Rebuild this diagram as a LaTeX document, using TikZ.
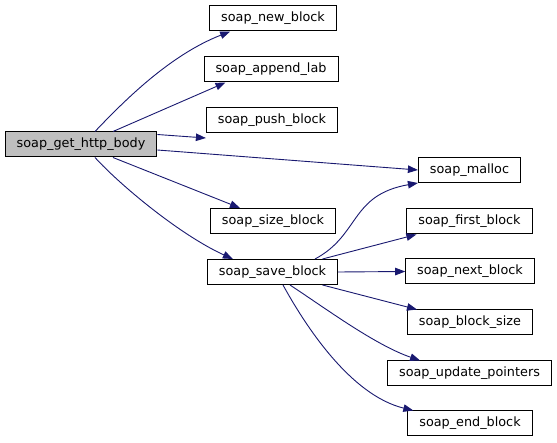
\documentclass[tikz,border=0pt]{standalone}
\usepackage{fontspec}
\setmainfont{DejaVu Sans}
\usetikzlibrary{arrows.meta}
\definecolor{edgeblue}{RGB}{25,25,112}
\definecolor{rootgray}{RGB}{191,191,191}

\begin{document}
\begin{tikzpicture}[
    x=1pt, y=-1pt,
    fn/.style={draw, line width=1pt, inner xsep=11.5pt, minimum height=25pt, fill=white, font=\fontsize{12.8}{15}\selectfont},
    call/.style={-{Triangle[length=10pt,width=7.5pt]}, line width=0.9pt, draw=edgeblue}
]
\useasboundingbox (0,0) rectangle (557,443);

\node[fn, fill=rootgray] (root) at (81,144.5) {soap\_get\_http\_body};
\node[fn] (newblock) at (273,18.5) {soap\_new\_block};
\node[fn] (appendlab) at (271,69.5) {soap\_append\_lab};
\node[fn] (pushblock) at (272,120) {soap\_push\_block};
\node[fn] (malloc) at (469.5,170) {soap\_malloc};
\node[fn] (sizeblock) at (273,221) {soap\_size\_block};
\node[fn] (saveblock) at (272.5,272) {soap\_save\_block};
\node[fn] (firstblock) at (469.5,221.5) {soap\_first\_block};
\node[fn] (nextblock) at (470,271.5) {soap\_next\_block};
\node[fn] (blocksize) at (470,322.5) {soap\_block\_size};
\node[fn] (updateptrs) at (469.5,373.5) {soap\_update\_pointers};
\node[fn] (endblock) at (470,423.5) {soap\_end\_block};

% calls from soap_get_http_body
\draw[call] ([xshift=14]root.north) .. controls (125,100) and (170,55) .. ([xshift=21]newblock.south west);
\draw[call] ([xshift=32]root.north) -- ([xshift=22]appendlab.south west);
\draw[call] ([yshift=-3]root.north east) -- ([yshift=-5]pushblock.south west);
\draw[call] ([yshift=-5.5]root.east) -- (malloc.west);
\draw[call] ([xshift=32]root.south) -- ([xshift=30]sizeblock.north west);
\draw[call] ([xshift=14]root.south) .. controls (120,185) and (180,235) .. ([xshift=26]saveblock.north west);

% calls from soap_save_block
\draw[call] ([xshift=42.5]saveblock.north) .. controls (360,235) and (350,195) .. (malloc.south west);
\draw[call] ([xshift=50]saveblock.north) -- ([xshift=10]firstblock.south west);
\draw[call] (saveblock.east) -- (nextblock.west);
\draw[call] ([xshift=50]saveblock.south) -- ([xshift=10]blocksize.north west);
\draw[call] ([xshift=17.5]saveblock.south) .. controls (325,308) and (375,345) .. ([xshift=33]updateptrs.north west);
\draw[call] ([xshift=10.5]saveblock.south) .. controls (305,325) and (350,395) .. ([xshift=6]endblock.north west);

\end{tikzpicture}
\end{document}
